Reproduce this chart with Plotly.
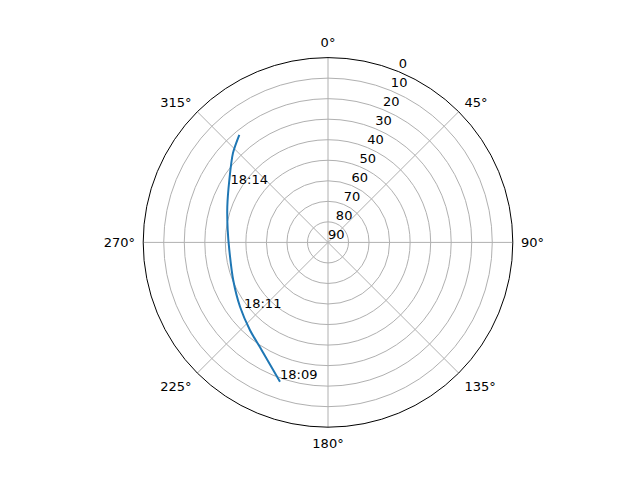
import plotly.graph_objects as go

# Satellite track: azimuth (deg, clockwise from north) and elevation (deg)
azimuth = [199.0, 211.6, 221.6, 233.8, 248.2, 265.5, 276.9, 289.4, 302.2, 313.2, 320.5]
elevation = [18.2, 28.4, 32.8, 36.9, 40.3, 41.8, 40.8, 38.0, 33.2, 26.5, 22.1]

# Time labels
label_text = ["18:09", "18:11", "18:14"]
label_az = [199.0, 230.7, 299.3]
label_el = [18.2, 37.1, 35.6]

radial_ticks = [0, 10, 20, 30, 40, 50, 60, 70, 80, 90]
radial_label_az = 22.5
angular_ticks = [0, 45, 90, 135, 180, 225, 270, 315]

font = dict(family="DejaVu Sans", size=13, color="black")

# page body has an 8px margin: shift the domain to compensate
sx = 8 / 640
sy = 8 / 480

fig = go.Figure()
fig.add_trace(go.Scatterpolar(
    r=elevation, theta=azimuth, mode="lines",
    line=dict(color="#1f77b4", width=2, shape="spline", smoothing=0.8),
    showlegend=False, hoverinfo="skip"))
fig.add_trace(go.Scatterpolar(
    r=label_el, theta=label_az, mode="text", text=label_text,
    textposition="top right", textfont=font, showlegend=False, hoverinfo="skip"))
# radial tick labels along the 22.5 deg line (matplotlib style)
fig.add_trace(go.Scatterpolar(
    r=radial_ticks, theta=[radial_label_az] * len(radial_ticks), mode="text",
    text=[str(v) for v in radial_ticks], textposition="top right", textfont=font,
    showlegend=False, hoverinfo="skip", cliponaxis=False))

fig.update_layout(
    width=640, height=480,
    margin=dict(l=0, r=0, t=0, b=0),
    paper_bgcolor="white",
    font=font,
    polar=dict(
        domain=dict(x=[0.125 - sx, 0.9 - sx], y=[0.11 + sy, 0.88 + sy]),
        bgcolor="white",
        radialaxis=dict(
            range=[90, 0], tickvals=radial_ticks, showticklabels=False,
            angle=67.5, showline=False, ticks="",
            gridcolor="#b0b0b0", gridwidth=0.8),
        angularaxis=dict(
            rotation=90, direction="clockwise",
            tickvals=angular_ticks, ticktext=[f"{v}°" for v in angular_ticks],
            ticks="outside", ticklen=5, tickcolor="rgba(0,0,0,0)",
            showline=True, linecolor="black", linewidth=1,
            gridcolor="#b0b0b0", gridwidth=0.8, tickfont=font),
    ),
)

fig.write_html("out.html")
